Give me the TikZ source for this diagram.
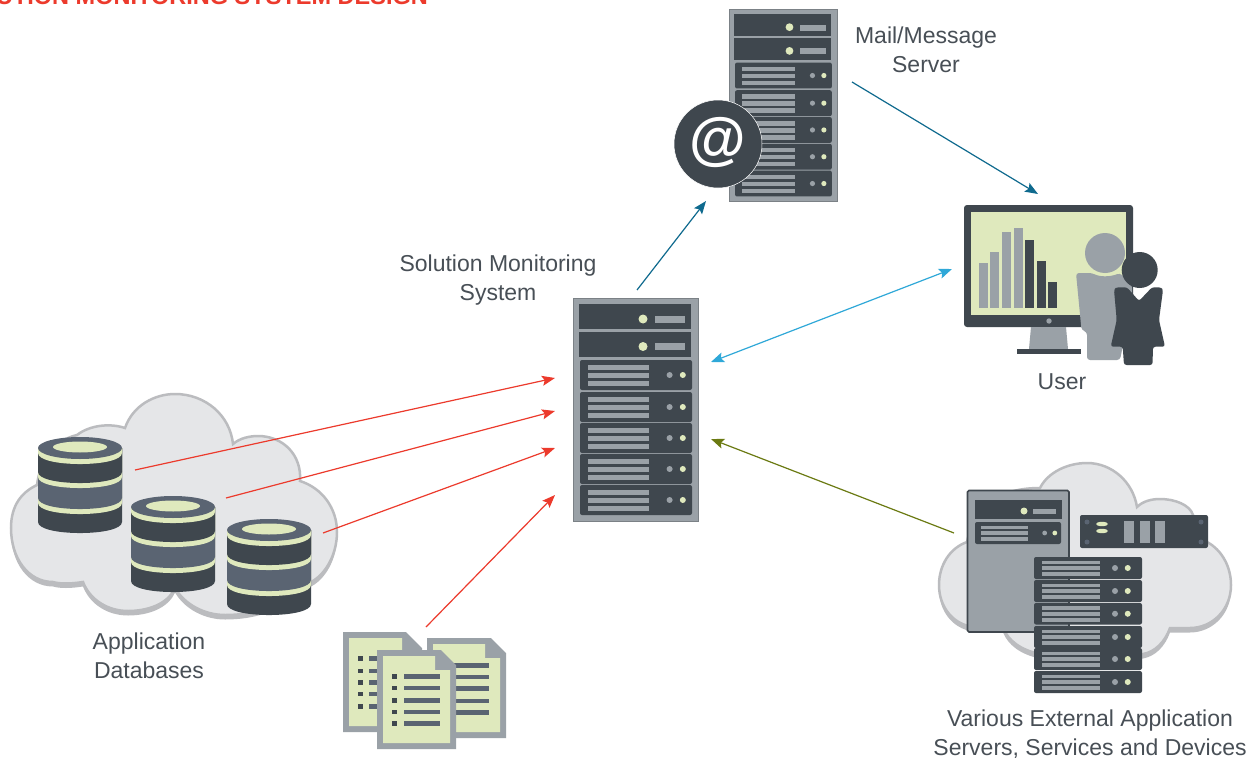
\documentclass[tikz,border=0pt]{standalone}
\usepackage{fontspec}
\setmainfont{Liberation Sans}
\usetikzlibrary{arrows.meta}
\definecolor{cdark}{HTML}{3F474E}
\definecolor{cgrey}{HTML}{9AA1A7}
\definecolor{clime}{HTML}{DFE9BD}
\definecolor{cslate}{HTML}{5A6472}
\definecolor{cfill}{HTML}{E5E6E8}
\definecolor{cline}{HTML}{BBBCBF}
\definecolor{cred}{HTML}{EC3A2C}
\definecolor{cteal}{HTML}{0F6A8E}
\definecolor{csky}{HTML}{2FA8D8}
\definecolor{colive}{HTML}{6B7A12}
\definecolor{ctext}{HTML}{484F56}
\tikzset{
  lbl/.style={anchor=base,inner sep=0pt,text=ctext,font=\fontsize{23}{27}\selectfont},
  arr/.style={line width=1.2pt,-{Stealth[length=13pt,width=10pt,inset=2.5pt]}},
  darr/.style={line width=1.2pt,{Stealth[length=13pt,width=10pt,inset=2.5pt]}-{Stealth[length=13pt,width=10pt,inset=2.5pt]}},
}
% a rack unit: x y w h firstdot radius
\newcommand\srvunit[6]{%
  \fill[cdark,rounded corners=2pt] (#1,#2) rectangle ++(#3,#4);
  \fill[cgrey] ({#1+.07*#3},{#2+.16*#4}) rectangle ({#1+.615*#3},{#2+.33*#4});
  \fill[cgrey] ({#1+.07*#3},{#2+.43*#4}) rectangle ({#1+.615*#3},{#2+.60*#4});
  \fill[cgrey] ({#1+.07*#3},{#2+.70*#4}) rectangle ({#1+.615*#3},{#2+.87*#4});
  \fill[cgrey] ({#1+#5*#3},{#2+.5*#4}) circle (#6);
  \fill[clime] ({#1+(#5+.118)*#3},{#2+.5*#4}) circle (#6);
}
% the tall server, local coordinates 125 x 223
\newcommand\rackserver{%
  \draw[fill=cgrey,draw=cgrey!80!black,line width=.8pt] (0,0) rectangle (125,223);
  \fill[cdark] (6,6) rectangle (118,31);
  \fill[cdark] (6,34) rectangle (118,59);
  \fill[clime] (70,21) circle (4.5);
  \fill[clime] (70,48.5) circle (4.5);
  \fill[cgrey] (82,18) rectangle (112,25);
  \fill[cgrey] (82,45) rectangle (112,52);
  \srvunit{7}{62}{112}{30}{.80}{3}
  \srvunit{7}{94}{112}{30}{.80}{3}
  \srvunit{7}{125}{112}{30}{.80}{3}
  \srvunit{7}{156}{112}{30}{.80}{3}
  \srvunit{7}{187}{112}{30}{.80}{3}
}
% database: x, top centre y
\newcommand\dbsec[4]{%
  \fill[#4] (#1,{#2+#3}) .. controls (#1,{#2+#3+14.7}) and ({#1+84},{#2+#3+14.7}) .. ({#1+84},{#2+#3}) -- ({#1+84},#2) -- (#1,#2) -- cycle;
}
\newcommand\database[2]{%
  \dbsec{#1}{#2}{74}{cdark}
  \dbsec{#1}{#2}{55}{clime}
  \dbsec{#1}{#2}{50}{cslate}
  \dbsec{#1}{#2}{29}{clime}
  \dbsec{#1}{#2}{24}{cdark}
  \dbsec{#1}{#2}{5}{clime}
  \fill[cslate] ({#1+42},#2) ellipse (42 and 11);
  \fill[clime] ({#1+42},{#2-1}) ellipse (27 and 5.5);
}
\newcommand\cloudL{(11,528) .. controls (11,505) and (22,492) .. (37,485) .. controls (40,460) and (55,440) .. (77,435) .. controls (90,425) and (110,423) .. (125,428) .. controls (133,405) and (155,394) .. (175,394) .. controls (205,394) and (230,415) .. (233,444) .. controls (240,438) and (250,436) .. (258,436) .. controls (283,436) and (302,455) .. (300,481) .. controls (322,488) and (337,508) .. (337,532) .. controls (337,555) and (325,575) .. (311,582) .. controls (290,600) and (265,615) .. (225,615) .. controls (205,615) and (185,605) .. (175,588) .. controls (168,604) and (148,611) .. (128,611) .. controls (108,611) and (90,600) .. (83,582) .. controls (70,584) and (60,584) .. (53,582) .. controls (28,582) and (11,558) .. (11,528) -- cycle}
\newcommand\cloudR{(939,585) .. controls (939,565) and (950,548) .. (967,542) .. controls (975,505) and (1000,488) .. (1040,488) .. controls (1048,472) and (1068,463) .. (1087,463) .. controls (1112,463) and (1133,482) .. (1137,507) .. controls (1143,501) and (1152,499) .. (1160,499) .. controls (1175,499) and (1190,505) .. (1193,515) -- (1207,542) .. controls (1222,550) and (1231,567) .. (1231,585) .. controls (1231,610) and (1212,628) .. (1190,628) -- (1170,628) .. controls (1165,642) and (1155,652) .. (1143,654) -- (1040,654) .. controls (1020,650) and (1008,640) .. (1003,628) -- (973,627) .. controls (952,624) and (939,606) .. (939,585) -- cycle}
\begin{document}
\begin{tikzpicture}[x=1pt,y=-1pt]
\useasboundingbox (0,0) rectangle (1253,760);
\clip (0,0) rectangle (1253,760);
\fill[white] (0,0) rectangle (1253,760);
\node[anchor=base east,inner sep=0pt,text=cred,font=\bfseries\fontsize{23.5}{27}\selectfont] (title) at (428,4.5) {SOLUTION MONITORING SYSTEM DESIGN};
% left cloud
\fill[cline,yshift=-4.5pt] \cloudL;
\draw[cline,fill=cfill,line width=2.5pt] \cloudL;
\database{38}{448}
\database{131}{507}
\database{227}{530}
% right cloud
\fill[cline,yshift=-4.5pt] \cloudR;
\draw[cline,fill=cfill,line width=2.5pt] \cloudR;
\draw[cdark,fill=cgrey,line width=1.6pt,rounded corners=1.5pt] (967.5,490.5) rectangle (1069,632);
\fill[cdark] (975,500) rectangle (1062,519);
\fill[clime] (1024,511) circle (3.5);
\fill[cgrey] (1033,509) rectangle (1056,514);
\srvunit{975}{522}{86}{22}{.81}{2.4}
\fill[cdark,rounded corners=2pt] (1080,515) rectangle (1208,548);
\foreach \px/\py in {1087/522,1087/542,1201/522,1201/542}{\fill[cslate] (\px,\py) circle (2.5);}
\fill[clime] (1102,524) ellipse (6 and 2.2);
\fill[clime] (1102,531) ellipse (6 and 2.2);
\fill[cgrey] (1124,521) rectangle (1134,543);
\fill[cgrey] (1140,521) rectangle (1150,543);
\fill[cgrey] (1155,521) rectangle (1165,543);
\srvunit{1034}{557}{108}{22}{.75}{3}
\srvunit{1034}{580}{108}{22}{.75}{3}
\srvunit{1034}{603}{108}{21.5}{.75}{3}
\srvunit{1034}{626}{108}{22}{.75}{3}
\srvunit{1034}{648}{108}{22}{.75}{3}
\srvunit{1034}{671}{108}{22}{.75}{3}
% main and mail servers
\begin{scope}[shift={(573,298)}]\rackserver\end{scope}
\begin{scope}[shift={(729,9)},scale=.864]\rackserver\end{scope}
\draw[white,fill=cdark,line width=.5pt] (718,144) circle (44);
\node[inner sep=0pt,text=white,font=\bfseries\fontsize{58}{62}\selectfont] (at) at (718,142) {@};
% monitor
\fill[cdark,rounded corners=3pt] (964,205) rectangle (1133,327);
\fill[clime] (971,212) rectangle (1126,315);
\fill[cgrey] (979,263) rectangle (988,308);
\fill[cgrey] (990,252) rectangle (999,308);
\fill[cgrey] (1002,232) rectangle (1011,308);
\fill[cgrey] (1014,228) rectangle (1023,308);
\fill[cdark] (1025,240) rectangle (1034,308);
\fill[cdark] (1037,261) rectangle (1046,308);
\fill[cdark] (1048,282) rectangle (1057,308);
\fill[cgrey] (1049,321) circle (2.7);
\fill[cgrey] (1031,327) -- (1066,327) -- (1068,349) -- (1029,349) -- cycle;
\fill[cdark] (1017,349) rectangle (1081,354);
\fill[cgrey,rounded corners=3pt] (1076,273) -- (1092,273) .. controls (1100,277) and (1110,277) .. (1120,273) -- (1132,285) -- (1132,300) -- (1120,360) -- (1087,360) -- (1087,332) -- (1081.5,330) -- cycle;
\fill[cgrey] (1105,253) circle (20);
\fill[cdark] (1139.7,270) circle (18);
\fill[cdark,rounded corners=2.5pt] (1114,290) -- (1116,287.3) -- (1127,287.3) -- (1139,301) -- (1152,287.3) -- (1161,287.3) -- (1163,290) -- (1159,320) -- (1165,346.7) -- (1153,346.7) -- (1152.5,365) -- (1124,365) -- (1122.7,346.7) -- (1110.7,346.7) -- (1116.7,320) -- cycle;
% documents
\fill[cgrey] (343,632) -- (406,632) -- (422,648) -- (422,732) -- (343,732) -- cycle;
\fill[clime] (349,638) -- (402,638) -- (402,652) -- (416,652) -- (416,726) -- (349,726) -- cycle;
\foreach \ya/\yb in {656/661,669/673,680/685,692/696,704/709}{
  \fill[cdark] (358,\ya) rectangle (363,\yb);
  \fill[cslate] (369,\ya) rectangle (385,\yb);
}
\fill[cgrey] (427,638) -- (491,638) -- (506,653) -- (506,738) -- (427,738) -- cycle;
\fill[clime] (433,644) -- (485,644) -- (485,658) -- (500,658) -- (500,732) -- (433,732) -- cycle;
\foreach \ya/\yb in {663/668,675/679,686/691,699/703,710/715}{
  \fill[cslate] (440,\ya) rectangle (489,\yb);
}
\fill[cgrey] (377,650) -- (441,650) -- (456,665) -- (456,749) -- (377,749) -- cycle;
\fill[clime] (383,656) -- (435,656) -- (435,670) -- (450,670) -- (450,743) -- (383,743) -- cycle;
\foreach \ya/\yb in {674/679,686/690,698/703,710/714,721/726}{
  \fill[cdark] (392,\ya) rectangle (397,\yb);
  \fill[cslate] (404,\ya) rectangle (440,\yb);
}
% labels
\node[lbl] (lsol1) at (498,271) {Solution Monitoring};
\node[lbl] (lsol2) at (498,300) {System};
\node[lbl] (lmail1) at (926,44) {Mail/Message};
\node[lbl] (lmail2) at (926,73) {Server};
\node[lbl] (luser) at (1062,389) {User};
\node[lbl] (lapp1) at (149,649) {Application};
\node[lbl] (lapp2) at (149,678) {Databases};
\node[lbl] (lext1) at (1090,726) {Various External Application};
\node[lbl] (lext2) at (1090,755) {Servers, Services and Devices};
% connector ends
\coordinate (da) at (135,470);
\coordinate (db) at (226,498);
\coordinate (dc) at (323,533);
\coordinate (docs) at (426,627);
\coordinate (ma) at (555,378);
\coordinate (mb) at (555,411);
\coordinate (mc) at (555,448);
\coordinate (md) at (555,495);
\coordinate (mtop) at (637,290);
\coordinate (mailin) at (706,201);
\coordinate (mailout) at (852,82);
\coordinate (userin) at (1038,194);
\coordinate (mr) at (711,362);
\coordinate (userl) at (952,269);
\coordinate (extout) at (954,533);
\coordinate (mlow) at (711,439);
\draw[arr,cred] (da) -- (ma);
\draw[arr,cred] (db) -- (mb);
\draw[arr,cred] (dc) -- (mc);
\draw[arr,cred] (docs) -- (md);
\draw[arr,cteal] (mtop) -- (mailin);
\draw[arr,cteal] (mailout) -- (userin);
\draw[darr,csky] (mr) -- (userl);
\draw[arr,colive] (extout) -- (mlow);
\end{tikzpicture}
\end{document}
